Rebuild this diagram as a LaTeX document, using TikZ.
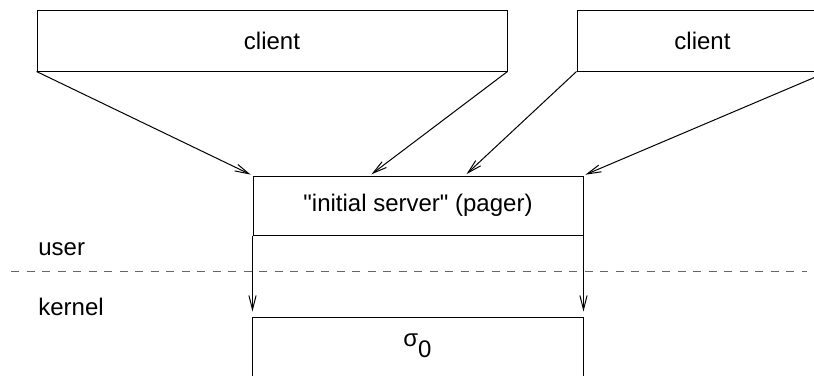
\documentclass[tikz,border=0pt]{standalone}
\usepackage{fontspec}
\setmainfont{Liberation Sans}
\usetikzlibrary{arrows.meta,calc}

\tikzset{
  box/.style={draw, line width=0.5pt, inner sep=0pt, font=\fontsize{12}{14}\selectfont},
  flow/.style={line width=0.5pt, -{Straight Barb[length=7pt,width=3.6pt]}, shorten >=1pt},
  divider/.style={line width=0.5pt, black!60, dash pattern=on 4pt off 3.75pt},
  tag/.style={inner sep=0pt, font=\fontsize{12}{14}\selectfont}
}

\begin{document}
\begin{tikzpicture}[x=0.5pt, y=-0.5pt]
  \clip (0,0) rectangle (814,375);

  % user-level clients
  \node[box, minimum width=235pt, minimum height=30.5pt] (c1) at (272,40.5) {client};
  \node[box, minimum width=125.5pt, minimum height=30.5pt] (c2) at (702.5,40.5) {client};

  % initial server
  \node[box, minimum width=165pt, minimum height=29.5pt] (srv) at (418,205.5)
    {\textquotedbl initial server\textquotedbl{} (pager)};

  % kernel object
  \node[box, minimum width=165.5pt, minimum height=51.5pt] (krn) at (417.5,368.5) {};
  \node[tag, anchor=base] (sig) at ([yshift=-15pt]krn.north) {σ\raisebox{-5.5pt}{0}};

  % arrival points on top of the server
  \coordinate (s2) at ($(srv.north west)!0.3545!(srv.north east)$);
  \coordinate (s3) at ($(srv.north west)!0.642!(srv.north east)$);

  \draw[flow] (c1.south west) -- (srv.north west);
  \draw[flow] (c1.south east) -- (s2);
  \draw[flow] (c2.south west) -- (s3);
  \draw[flow] (c2.south east) -- (srv.north east);

  % server down to the kernel
  \draw[flow, shorten >=2.5pt] (srv.south west) -- (srv.south west |- krn.north);
  \draw[flow, shorten >=2.5pt] (srv.south east) -- (srv.south east |- krn.north);

  % user / kernel boundary
  \coordinate (dl) at (11,271);
  \coordinate (dr) at (807,271);
  \draw[divider] (dl) -- (dr);

  \node[tag, anchor=base west] (usr) at (38,255) {user};
  \node[tag, anchor=base west] (ker) at (38,315) {kernel};
\end{tikzpicture}
\end{document}
